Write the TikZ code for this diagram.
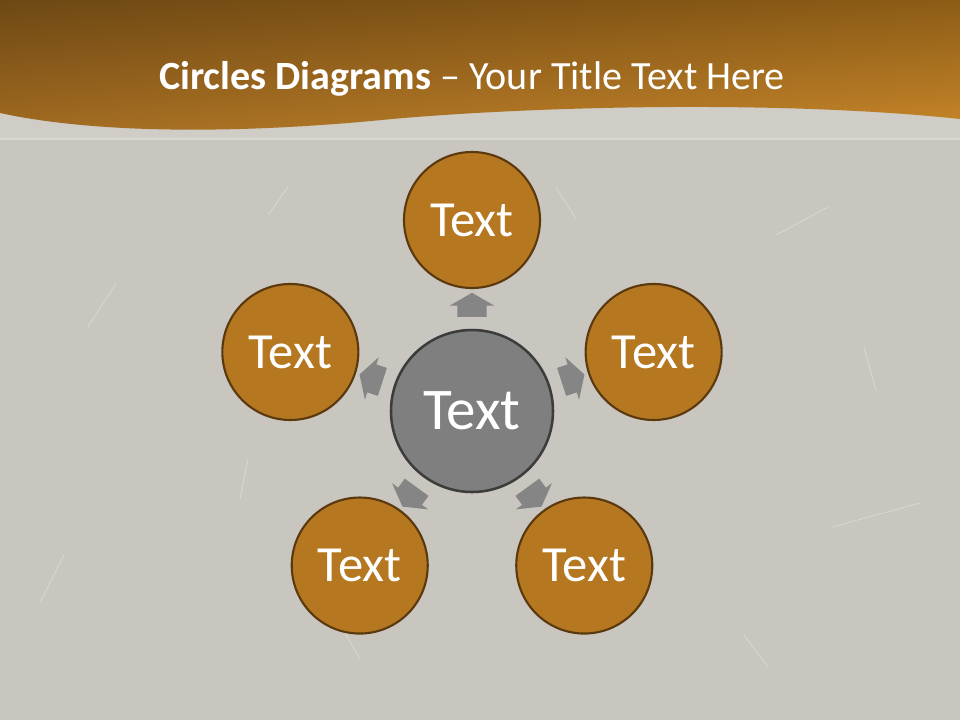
\documentclass[tikz,border=0pt]{standalone}
\usepackage{fontspec}
\setmainfont{Carlito}
\usepackage{tikz}
\usetikzlibrary{shapes.arrows, shadings}
\definecolor{bggray}{HTML}{C9C5BF}
\definecolor{stripgray}{HTML}{D0CCC6}
\definecolor{bandul}{RGB}{110,72,20}
\definecolor{bandur}{RGB}{140,92,22}
\definecolor{bandll}{RGB}{162,108,34}
\definecolor{bandlr}{RGB}{201,135,42}
\definecolor{petalfill}{HTML}{B5771F}
\definecolor{petalborder}{HTML}{5A390E}
\definecolor{hubfill}{HTML}{7F7F7F}
\definecolor{hubborder}{HTML}{3C3C3C}
\definecolor{arrowgray}{HTML}{858585}
\tikzstyle{hubcircle} = [circle, minimum size=4.05cm, inner sep=0pt, draw=hubborder, line width=1.8pt, fill=hubfill, text=white, font=\fontsize{42}{48}\selectfont]
\tikzstyle{petal} = [circle, minimum size=3.4cm, inner sep=0pt, draw=petalborder, line width=1.5pt, fill=petalfill, text=white, font=\fontsize{36}{42}\selectfont]
\tikzstyle{blockarrow} = [single arrow, draw=none, fill=arrowgray, minimum height=0.6cm, inner xsep=0pt, inner ysep=0.36cm, single arrow head extend=0.19cm, single arrow tip angle=120]
\tikzstyle{scratch} = [white, opacity=0.35, line width=0.5pt]

\begin{document}
\begin{tikzpicture}
        % Background
        \useasboundingbox (-11.8,-7.725) rectangle (12.2,10.275);
        \fill [bggray] (-11.8,-7.725) rectangle (12.2,10.275);
        \fill [stripgray] (-11.8,7.6) rectangle (12.2,6.8);
        \draw [white, opacity=0.3, line width=1pt] (-11.8,6.8) -- (12.2,6.8);
        \shade [upper left=bandul, upper right=bandur, lower left=bandll, lower right=bandlr]
            (-11.8,10.275) -- (-11.8,7.45) .. controls (-9.5,6.95) and (-6,6.9) .. (-2,7.3)
            .. controls (2,7.65) and (8,7.75) .. (12.2,7.3) -- (12.2,10.275) -- cycle;

        % Scratches
        \draw [scratch] (-4.6,5.6) -- (-5.1,4.9);
        \draw [scratch] (-8.9,3.2) -- (-9.6,2.1);
        \draw [scratch] (-5.6,-1.2) -- (-5.8,-2.2);
        \draw [scratch] (9.0,-2.9) -- (11.2,-2.3);
        \draw [scratch] (7.6,4.4) -- (8.9,5.1);
        \draw [scratch] (-10.8,-4.8) -- (-10.2,-3.6);
        \draw [scratch] (6.8,-5.6) -- (7.4,-6.4);
        \draw [scratch] (2.1,5.6) -- (2.6,4.8);
        \draw [scratch] (-2.8,-6.2) -- (-3.5,-5.0);
        \draw [scratch] (9.8,1.6) -- (10.1,0.5);

        % Title
        \node (title) [text=white, font=\fontsize{28.5}{34}\selectfont] at (0,8.3) {\textbf{Circles Diagrams} -- Your Title Text Here};

        % Nodes
        \node (hub) [hubcircle] at (0,0) {Text};
        \node (circle_top) [petal] at (90:4.775) {Text};
        \node (circle_right) [petal] at (18:4.775) {Text};
        \node (circle_low_right) [petal] at (-54:4.775) {Text};
        \node (circle_low_left) [petal] at (-126:4.775) {Text};
        \node (circle_left) [petal] at (162:4.775) {Text};

        % Arrows
        \node (arrow_top) [blockarrow, rotate=90] at (90:2.55) {};
        \node (arrow_right) [blockarrow, rotate=18] at (18:2.55) {};
        \node (arrow_low_right) [blockarrow, rotate=-54] at (-54:2.55) {};
        \node (arrow_low_left) [blockarrow, rotate=-126] at (-126:2.55) {};
        \node (arrow_left) [blockarrow, rotate=162] at (162:2.55) {};
    \end{tikzpicture}
\end{document}
